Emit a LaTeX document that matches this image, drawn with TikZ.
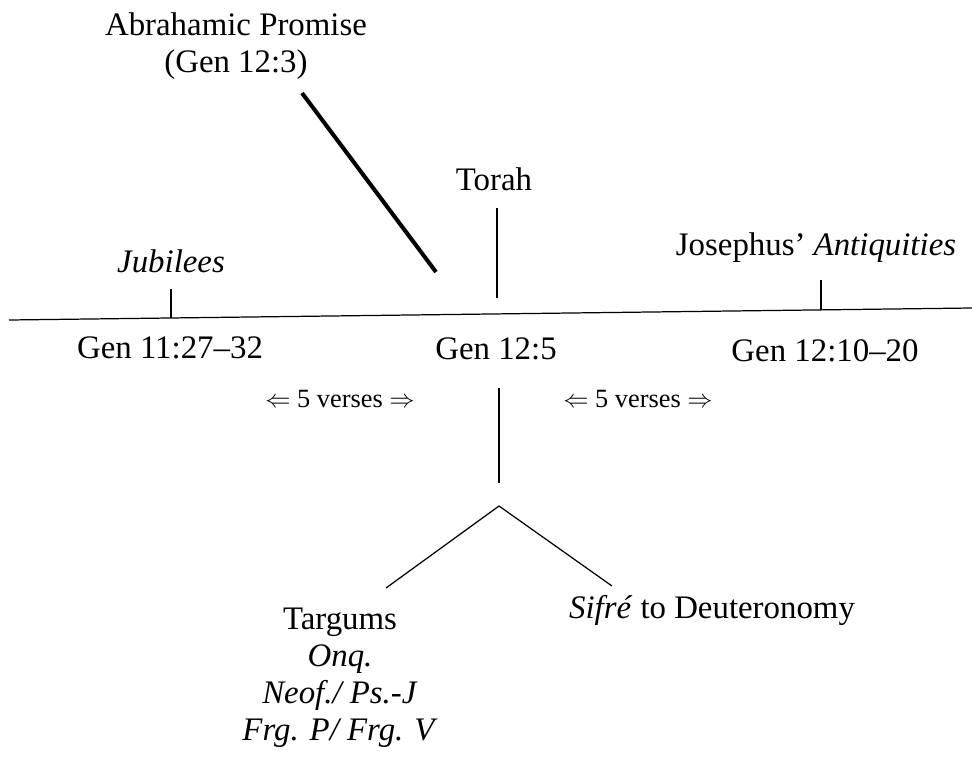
\documentclass[tikz,border=0pt]{standalone}
\usepackage{fontspec}
\setmainfont{Liberation Serif}
\usetikzlibrary{positioning}

\begin{document}
\begin{tikzpicture}[x=0.02cm, y=-0.02cm,
    lbl/.style={font=\fontsize{18.7}{21}\selectfont, inner sep=0pt, anchor=base, align=center},
    vrs/.style={font=\fontsize{15}{18}\selectfont, inner sep=0pt, anchor=base},
    tick/.style={line width=0.7pt},
    heavy/.style={line width=2.3pt},
]
\useasboundingbox (0,0) rectangle (972,757);

% Labels above the line (multi-line nodes sit on their last baseline)
\node[lbl] (abr) at (236,72) {Abrahamic Promise\\(Gen 12:3)};
\node[lbl] (torah) at (494,190) {Torah};
\node[lbl] (jub) at (171,272) {\textit{Jubilees}};
\node[lbl] (jos) at (816,255) {Josephus' \textit{Antiquities}};

% Passages below the line
\node[lbl] (g1127) at (170,358) {Gen 11:27--32};
\node[lbl] (g125) at (496,359) {Gen 12:5};
\node[lbl] (g1210) at (825,361) {Gen 12:10--20};

% Distances
\node[vrs] (vl) at (340,407) {$\Leftarrow$ 5 verses $\Rightarrow$};
\node[vrs] (vr) at (638,407) {$\Leftarrow$ 5 verses $\Rightarrow$};

% Later readings
\node[lbl] (targ) at (340,740) {Targums\\\textit{Onq.}\\\textit{Neof./ Ps.-J}\\\textit{Frg. P/ Frg. V}};
\node[lbl] (sifre) at (712,618) {\textit{Sifré} to Deuteronomy};

% Line ends
\coordinate (lineW) at (9,320);
\coordinate (lineE) at (972,308);
\coordinate (abrEnd) at (302,93);
\coordinate (abrTip) at (436,272);
\coordinate (torTop) at (497,208);
\coordinate (torBot) at (497,298);
\coordinate (jubTop) at (171,289);
\coordinate (jubBot) at (171,318);
\coordinate (josTop) at (821,280);
\coordinate (josBot) at (821,310);
\coordinate (genTop) at (499,388);
\coordinate (genBot) at (499,483);
\coordinate (apex) at (499,506);
\coordinate (legL) at (386,588);
\coordinate (legR) at (612,586);

% Lines
\draw[tick] (lineW) -- (lineE);
\draw[heavy] (abrEnd) -- (abrTip);
\draw[tick] (torTop) -- (torBot);
\draw[tick] (jubTop) -- (jubBot);
\draw[tick] (josTop) -- (josBot);
\draw[tick] (genTop) -- (genBot);
\draw[tick] (legL) -- (apex) -- (legR);

\end{tikzpicture}
\end{document}
